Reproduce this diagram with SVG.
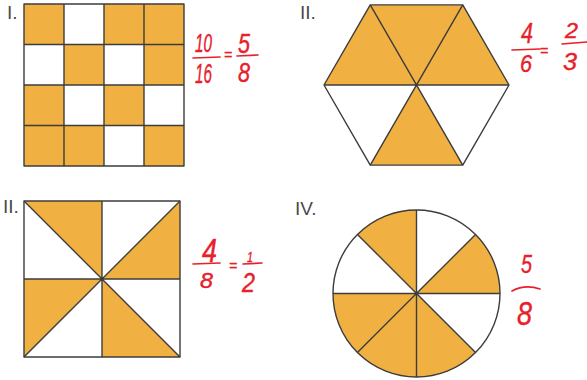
<svg xmlns="http://www.w3.org/2000/svg" width="587" height="380" viewBox="0 0 587 380">
<style>
.f{fill:#F0B142}
.ln{stroke:#3c3c3c;stroke-width:1.4;fill:none;stroke-linejoin:round}
.lbl{font-family:"Liberation Sans",Arial,sans-serif;font-size:19px;fill:#4a4a4a}
.hw{font-family:"Liberation Sans",Arial,sans-serif;fill:#E8202A;stroke:#E8202A;stroke-width:0.4;font-style:italic}
.bar{stroke:#E8202A;stroke-width:1.7;fill:none;stroke-linecap:round}
</style>
<rect width="587" height="380" fill="#ffffff"/>

<g id="fig1">
<text class="lbl" x="7" y="19">I.</text>
<g class="f">
<rect x="24" y="4" width="40" height="40.5"/>
<rect x="104" y="4" width="80" height="40.5"/>
<rect x="64" y="44.5" width="40" height="40.5"/>
<rect x="144" y="44.5" width="40" height="40.5"/>
<rect x="24" y="85" width="40" height="40.5"/>
<rect x="104" y="85" width="40" height="40.5"/>
<rect x="24" y="125.5" width="80" height="40.5"/>
<rect x="144" y="125.5" width="40" height="40.5"/>
</g>
<g class="ln">
<rect x="24" y="4" width="160" height="162"/>
<path d="M64,4V166M104,4V166M144,4V166M24,44.5H184M24,85H184M24,125.5H184"/>
</g>
<g id="frac1">
<text class="hw" x="195" y="52" font-size="25" textLength="17" lengthAdjust="spacingAndGlyphs">10</text>
<path class="bar" d="M193,58L220,57"/>
<text class="hw" x="195" y="83" font-size="27" textLength="17" lengthAdjust="spacingAndGlyphs">16</text>
<text class="hw" x="224" y="60" font-size="14">=</text>
<text class="hw" x="238" y="53" font-size="27" textLength="12" lengthAdjust="spacingAndGlyphs">5</text>
<path class="bar" d="M237,56L258,55"/>
<text class="hw" x="238" y="82" font-size="27" textLength="12" lengthAdjust="spacingAndGlyphs">8</text>
</g>
</g>

<g id="fig2">
<text class="lbl" x="300" y="19">II.</text>
<g class="f">
<path d="M324,85L370.25,4.9L462.75,4.9L509,85Z"/>
<path d="M416.5,85L370.25,165.1L462.75,165.1Z"/>
</g>
<g class="ln">
<path d="M324,85L370.25,4.9L462.75,4.9L509,85L462.75,165.1L370.25,165.1Z"/>
<path d="M324,85H509M370.25,4.9L462.75,165.1M462.75,4.9L370.25,165.1"/>
</g>
<g id="frac2">
<text class="hw" x="521" y="43" font-size="29" textLength="12" lengthAdjust="spacingAndGlyphs">4</text>
<path class="bar" d="M512,50L540,49"/>
<text class="hw" x="520" y="72" font-size="24" textLength="12" lengthAdjust="spacingAndGlyphs">6</text>
<text class="hw" x="540" y="56" font-size="14">=</text>
<text class="hw" x="565" y="38" font-size="22" textLength="13" lengthAdjust="spacingAndGlyphs">2</text>
<path class="bar" d="M562,44L587,42"/>
<text class="hw" x="563" y="70" font-size="24" textLength="14" lengthAdjust="spacingAndGlyphs">3</text>
</g>
</g>

<g id="fig3">
<text class="lbl" x="3" y="213">II.</text>
<g class="f">
<path d="M24,201L102,201L102,279Z"/>
<path d="M102,279L180,279L180,201Z"/>
<path d="M24,279L102,279L24,357Z"/>
<path d="M102,279L102,357L180,357Z"/>
</g>
<g class="ln">
<rect x="24" y="201" width="156" height="156"/>
<path d="M102,201V357M24,279H180M24,201L180,357M180,201L24,357"/>
</g>
<g id="frac3">
<text class="hw" x="202" y="262" font-size="33" textLength="15" lengthAdjust="spacingAndGlyphs">4</text>
<path class="bar" d="M193,264L220,263"/>
<text class="hw" x="200" y="288" font-size="22" textLength="13" lengthAdjust="spacingAndGlyphs">8</text>
<text class="hw" x="229" y="271" font-size="14">=</text>
<text class="hw" x="247" y="262" font-size="14" textLength="6" lengthAdjust="spacingAndGlyphs">1</text>
<path class="bar" d="M243,264L262,263"/>
<text class="hw" x="242" y="292" font-size="27" textLength="13" lengthAdjust="spacingAndGlyphs">2</text>
</g>
</g>

<g id="fig4">
<text class="lbl" x="295" y="215">IV.</text>
<g class="f">
<path d="M416.5,293.5L475.54,234.46A83.5,83.5 0 0 1 500,293.5Z"/>
<path d="M416.5,293.5L475.54,352.54A83.5,83.5 0 0 1 333,293.5Z"/>
<path d="M416.5,293.5L357.46,234.46A83.5,83.5 0 0 1 416.5,210Z"/>
</g>
<g class="ln">
<circle cx="416.5" cy="293.5" r="83.5"/>
<path d="M416.5,210V377M333,293.5H500M357.46,234.46L475.54,352.54M475.54,234.46L357.46,352.54"/>
</g>
<g id="frac4">
<text class="hw" x="521" y="273" font-size="25" textLength="11" lengthAdjust="spacingAndGlyphs">5</text>
<path class="bar" d="M512,291Q525,284 540,289"/>
<text class="hw" x="517" y="325" font-size="34" textLength="15" lengthAdjust="spacingAndGlyphs">8</text>
</g>
</g>
</svg>
